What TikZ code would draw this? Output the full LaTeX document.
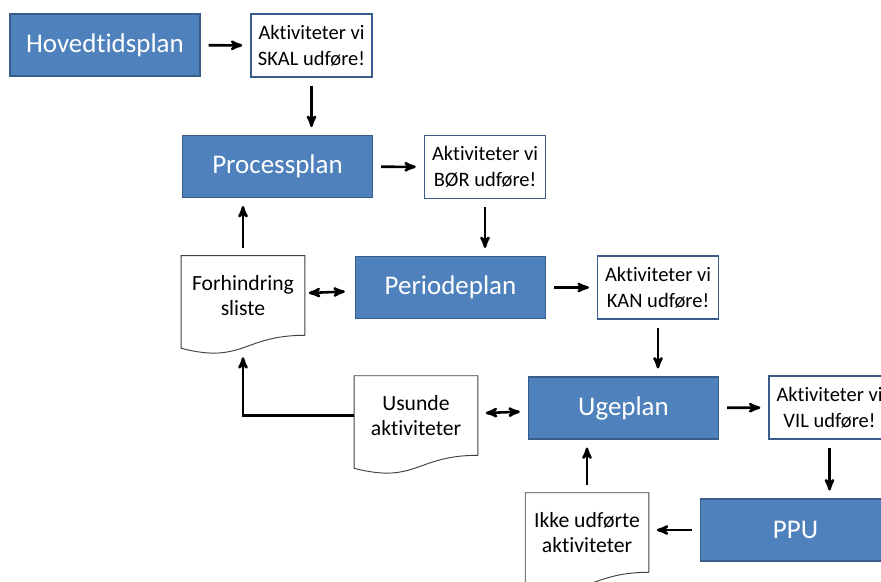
\documentclass[tikz,border=0pt]{standalone}
\usepackage{fontspec}
\setmainfont{Carlito}[Ligatures=NoCommon]
\usepackage{tikz}
\usetikzlibrary{calc,arrows}
\definecolor{planblue}{HTML}{4F81BD}
\definecolor{planedge}{HTML}{385D8A}

\begin{document}
\begin{tikzpicture}[x=0.03cm,y=-0.03cm,
>=stealth',line width=2.2pt,
plan/.style={draw=planedge,line width=1.2pt,fill=planblue,text=white,minimum width=5.7cm,minimum height=1.85cm,font=\fontsize{23}{27}\selectfont},
todo/.style={draw=planedge,line width=1.2pt,fill=white,align=center,minimum width=3.63cm,minimum height=1.88cm,inner sep=1pt,font=\fontsize{17.5}{22}\selectfont},
doc/.style={minimum width=3.63cm,minimum height=2.31cm,align=center,inner sep=1pt,font=\fontsize{18.5}{21}\selectfont},
wave/.style={draw=black!75,line width=0.8pt},
link/.style={->,shorten >=.24cm,shorten <=.24cm}]
\useasboundingbox (0,0) rectangle (881,581);
% plans and what they give
\node[plan] (hoved) at (105,45) {Hovedtidsplan};
\node[todo] (skal) at (311.5,45.5) {Aktiviteter vi\\SKAL udføre!};
\node[plan] (process) at (277.5,166.5) {Processplan};
\node[todo] (boer) at (485,167) {Aktiviteter vi\\BØR udføre!};
\node[plan] (periode) at (450.5,287.5) {Periodeplan};
\node[todo] (kan) at (658,287.5) {Aktiviteter vi\\KAN udføre!};
\node[plan] (uge) at (623.5,408) {Ugeplan};
\node[todo] (vil) at (829.5,407.5) {Aktiviteter vi\\VIL udføre!};
\node[plan] (ppu) at (795.5,530) {PPU};
% documents
\node[doc] (forh) at (243,295.5) {Forhindring\\sliste};
\node[doc] (usunde) at (416,415.5) {Usunde\\aktiviteter};
\node[doc] (ikke) at (587,532.5) {Ikke udførte\\aktiviteter};
\foreach \d in {forh,usunde,ikke}
  \draw[wave] (\d.south east) -- (\d.north east) -- (\d.north west)
    -- ($(\d.south west)+(0,13)$) .. controls ($(\d.south)+(0,29)$) and (\d.south) .. (\d.south east);
% arrows
\draw[link] (hoved) -- (skal);
\draw[link] (skal.south) -- (skal.south |- process.north);
\draw[link] (process) -- (boer);
\draw[link] (boer.south) -- (boer.south |- periode.north);
\draw[link] (periode) -- (kan);
\draw[link] (kan.south) -- (kan.south |- uge.north);
\draw[link] (uge) -- (vil);
\draw[link] (vil.south) -- (vil.south |- ppu.north);
\draw[link] (ppu.west) -- (ppu.west -| ikke.east);
\draw[link] (ikke.north) -- (ikke.north |- uge.south);
\draw[link] (forh.north) -- (forh.north |- process.south);
\draw[link,<->,shorten <=.12cm,shorten >=.3cm] (forh) -- (periode);
\draw[link,<->] (usunde) -- (uge);
\draw[->,shorten >=.66cm] (usunde.west) -| (forh.south);
\end{tikzpicture}
\end{document}
